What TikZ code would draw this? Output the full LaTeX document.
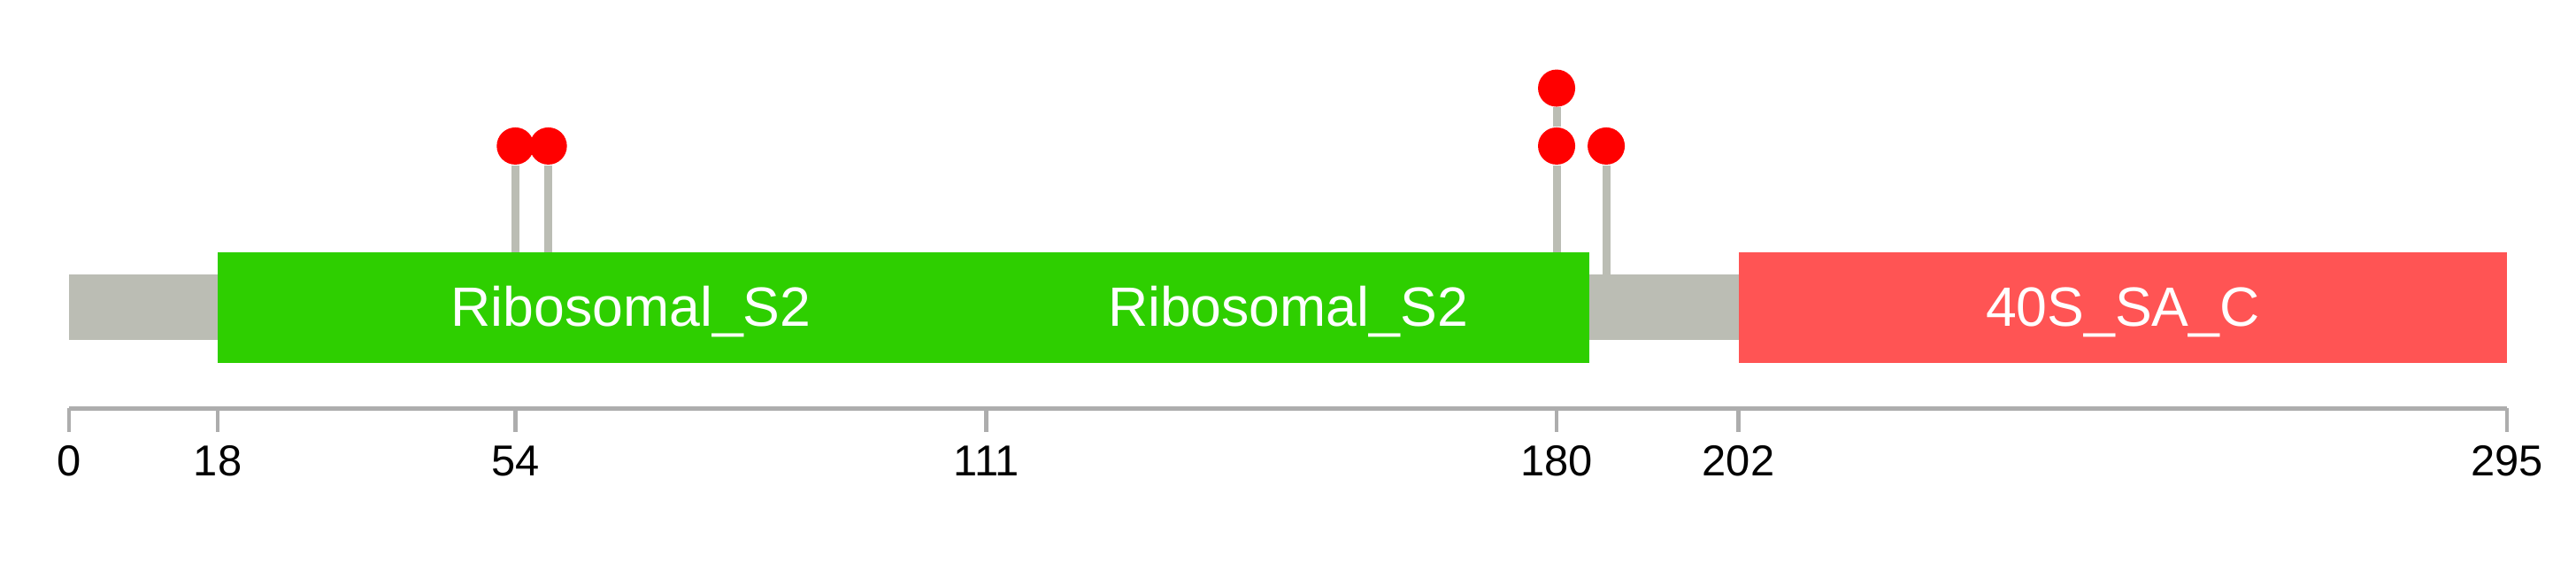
\documentclass[tikz,border=0pt]{standalone}
\usepackage{fontspec}
\setmainfont{Liberation Sans}
\usepackage{tikz}
\usetikzlibrary{positioning}

\definecolor{backbone}{RGB}{187,189,180}
\definecolor{pfamgreen}{RGB}{46,207,0}
\definecolor{pfamred}{RGB}{255,84,84}
\definecolor{axisgrey}{RGB}{173,173,173}
\definecolor{headred}{RGB}{255,0,0}

\begin{document}
\begin{tikzpicture}[x=0.09339cm, y=-0.01cm,
  domlabel/.style={text=white, font=\fontsize{17.8}{20}\selectfont, anchor=base, inner sep=0pt},
  ticklabel/.style={font=\fontsize{13.9}{16}\selectfont, anchor=base, inner sep=0pt},
  head/.style={circle, fill=headred, minimum size=0.42cm, inner sep=0pt},
  stem/.style={draw=backbone, line width=0.09cm}]

\useasboundingbox (-8.352,0) rectangle (303.35,645);

% backbone and domains

\fill[backbone] (0,310.5) rectangle (295,384);
\fill[pfamgreen] (18,285) rectangle (118,410.5);
\fill[pfamgreen] (111,285) rectangle (184,410.5);
\fill[pfamred] (202,285) rectangle (295,410.5);

\node[domlabel] (rs1) at (68,369) {Ribosomal\_S2};
\node[domlabel] (rs2) at (147.5,369) {Ribosomal\_S2};
\node[domlabel] (sac) at (248.5,369) {40S\_SA\_C};

% axis

\draw[axisgrey, line width=0.05cm] (0,461.5) -- (295,461.5);
\foreach \p in {0,18,54,111,180,202,295} {
  \draw[axisgrey, line width=0.045cm] (\p,461.5) -- (\p,488);
  \node[ticklabel] (t\p) at (\p,538) {\p};
}

% define nodes

\coordinate (b54) at (54,285);
\coordinate (b58) at (58,285);
\coordinate (b180) at (180,285);
\coordinate (b186) at (186,310.5);

\node[head] (h54) at (54,165) {};
\node[head] (h58) at (58,165) {};
\node[head] (h180) at (180,165) {};
\node[head] (h180b) at (180,99.6) {};
\node[head] (h186) at (186,165) {};

% edges

\draw[stem] (b54) -- (h54);
\draw[stem] (b58) -- (h58);
\draw[stem] (b180) -- (h180);
\draw[stem] (h180) -- (h180b);
\draw[stem] (b186) -- (h186);

\end{tikzpicture}
\end{document}
